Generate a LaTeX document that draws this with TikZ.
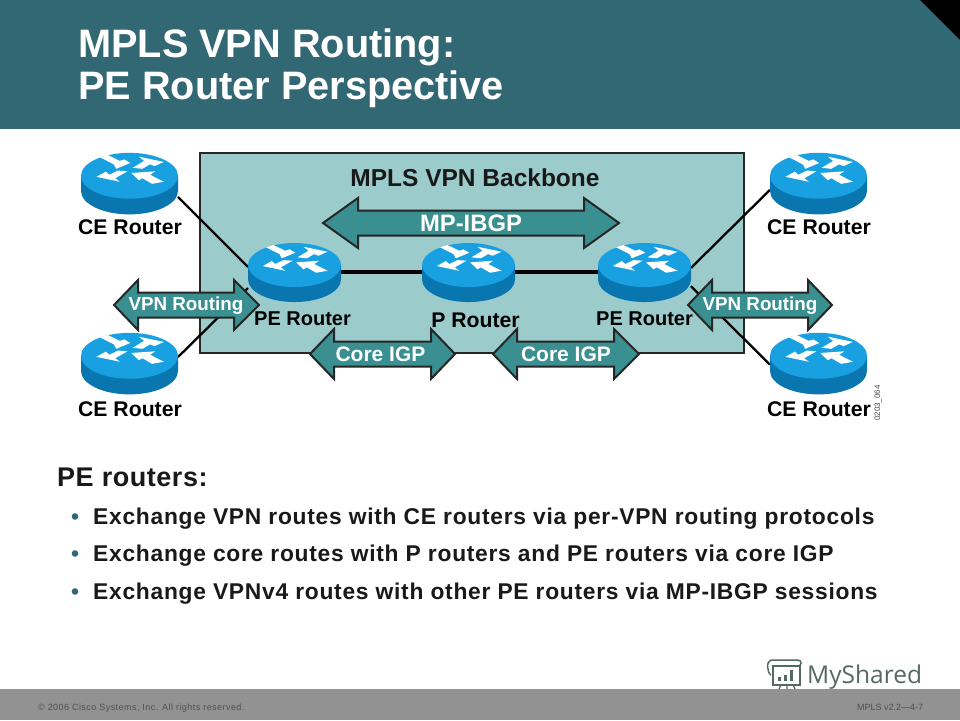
\documentclass[tikz,border=0pt]{standalone}
\usepackage{fontspec}
\setmainfont{Liberation Sans}
\newfontfamily\logofont{Open Sans}
\definecolor{hdr}{RGB}{50,103,116}
\definecolor{foot}{RGB}{146,146,146}
\definecolor{footink}{RGB}{80,80,80}
\definecolor{panel}{RGB}{156,203,203}
\definecolor{teal}{RGB}{58,144,144}
\definecolor{rtop}{RGB}{25,160,225}
\definecolor{rside}{RGB}{10,118,176}
\definecolor{logoink}{RGB}{85,105,100}
\newcommand{\spaced}[1]{\addfontfeature{LetterSpace=#1}}
\tikzset{
  x=1pt,y=-1pt,
  routerbox/.style={rectangle,inner sep=0pt,outer sep=0pt},
  rlabel/.style={font=\bfseries\fontsize{21.2}{23}\selectfont,text=black,inner sep=0pt},
  rlabelsmall/.style={font=\bfseries\fontsize{20}{22}\selectfont,text=black,inner sep=0pt},
  arrowlabel/.style={font=\bfseries\fontsize{18.8}{20}\selectfont,text=white,inner sep=0pt},
  arrowshape/.style={fill=teal,draw=black!85,line width=2pt,line join=miter},
  link/.style={draw=black,line width=2.3pt},
  trunk/.style={draw=black,line width=4pt},
  bullet/.style={font=\bfseries\fontsize{22.8}{24}\selectfont\spaced{3.2},text=black!90,inner sep=0pt,anchor=base west},
  titletext/.style={font=\bfseries\fontsize{39.7}{46}\selectfont,text=white,anchor=base west,inner sep=0pt},
  foottext/.style={font=\fontsize{9}{10}\selectfont,text=footink,anchor=base west,inner sep=0pt},
}
% name, cx, top, half-width, height
\newcommand{\routerbox}[5]{%
  \node[routerbox,minimum width=2*#4 pt,minimum height=#5 pt] (#1) at (#2,#3+#5/2) {};
}
\newcommand{\routerdraw}[4]{%
  \begin{scope}[shift={(#1,#2+#4*0.38)},scale=#3/46.5]
    \fill[rside] (-46.5,0) -- (-46.5,14.5) arc[start angle=180,end angle=360,x radius=46.5,y radius=-22.5] -- (46.5,0) -- cycle;
    \fill[rtop] (0,0) ellipse[x radius=46.5,y radius=22];
    \fill[white] (-28.3,-17.7)--(-21,-20)--(-9.3,-14.3)--(-5,-15.7)--(0.7,-12.3)--(-12.7,-6.7)--(-15,-11)--cycle;
    \fill[white] (3,-7.7)--(12.3,-6.7)--(19.7,-11)--(24,-9.3)--(33,-13.3)--(9,-18.3)--(14,-14.3)--cycle;
    \fill[white] (-31.7,1)--(-9.3,5.7)--(-13.7,2.3)--(-2,-4.3)--(-11,-5)--(-19.3,-1)--(-22.7,-4)--cycle;
    \fill[white] (1.7,-2.7)--(24.7,-4.3)--(19.7,-1)--(33,5.7)--(21.7,7.7)--(12.3,2.3)--(9,4.3)--cycle;
  \end{scope}
}
% name, left tip, left back, right back, right tip, y, text, label x, label y
\newcommand{\dblarrow}[9]{%
  \draw[arrowshape] (#2,#6) -- (#3,#6-25) -- (#3,#6-12.5) -- (#4,#6-12.5) -- (#4,#6-25) -- (#5,#6)
    -- (#4,#6+25) -- (#4,#6+12.5) -- (#3,#6+12.5) -- (#3,#6+25) -- cycle;
  \node[arrowlabel] (#1) at (#8,#9) {#7};
}
\begin{document}
\begin{tikzpicture}
\useasboundingbox (0,0) rectangle (960,720);
\fill[white] (0,0) rectangle (960,720);
\fill[hdr] (0,0) rectangle (960,129);
\fill[black] (920,0) -- (960,0) -- (960,40) -- cycle;
\fill[foot] (0,689) rectangle (960,720);
\node[titletext] (t1) at (78,57) {MPLS VPN Routing:};
\node[titletext] (t2) at (78,99) {PE Router Perspective};

\draw[draw=black!85,fill=panel,line width=2.7pt] (200,153) rectangle (744,353);
\node[font=\bfseries\fontsize{24.5}{26}\selectfont,text=black!90,inner sep=0pt] (backbone) at (475,178) {MPLS VPN Backbone};

\routerbox{ce1}{129.5}{153}{48.5}{60}
\routerbox{ce2}{129.5}{333}{48.5}{60}
\routerbox{ce3}{818.5}{153}{48.5}{60}
\routerbox{ce4}{818.5}{333}{48.5}{60}
\routerbox{pe1}{294.5}{243}{46.5}{58}
\routerbox{pr}{468.5}{243}{46.5}{58}
\routerbox{pe2}{644.5}{243}{46.5}{58}

\draw[link] (ce1.-16) -- (pe1.174);
\draw[link] (ce2.7) -- (pe1.199);
\draw[link] (ce3.188) -- (pe2.5);
\draw[link] (ce4.182) -- (pe2.-17);
\draw[trunk] (pe1.east) -- (pr.west);
\draw[trunk] (pr.east) -- (pe2.west);

\routerdraw{129.5}{153}{48.5}{60}
\routerdraw{129.5}{333}{48.5}{60}
\routerdraw{818.5}{153}{48.5}{60}
\routerdraw{818.5}{333}{48.5}{60}
\routerdraw{294.5}{243}{46.5}{58}
\routerdraw{468.5}{243}{46.5}{58}
\routerdraw{644.5}{243}{46.5}{58}

\dblarrow{ibgp}{323}{358}{584}{619}{223}{\fontsize{23.8}{25}\selectfont MP-IBGP}{471}{223}
\dblarrow{vpn1}{114}{138}{234}{259}{305}{VPN Routing}{186}{306}
\dblarrow{vpn2}{688}{712}{808}{832}{305}{VPN Routing}{760}{306}
\dblarrow{igp1}{310}{334}{431}{455}{354}{\fontsize{21}{23}\selectfont Core IGP}{380.5}{354}
\dblarrow{igp2}{493}{517}{614}{639}{354}{\fontsize{21}{23}\selectfont Core IGP}{566}{354}

\node[rlabel] (l1) at (130,227) {CE Router};
\node[rlabel] (l2) at (130,409) {CE Router};
\node[rlabel] (l3) at (819,227) {CE Router};
\node[rlabel] (l4) at (819,409) {CE Router};
\node[rlabelsmall] (l5) at (302.5,319) {PE Router};
\node[rlabel] (l6) at (475.5,320) {P Router};
\node[rlabelsmall] (l7) at (644.5,319) {PE Router};
\node[font=\fontsize{8}{9}\selectfont,text=black!70,rotate=90,inner sep=0pt] (code) at (878,403) {0203\_064};

\node[font=\bfseries\fontsize{27}{30}\selectfont\spaced{2},text=black!90,anchor=base west,inner sep=0pt] (pe) at (57,486) {PE routers:};
\node[bullet,text=hdr] (b1) at (71,524) {•};
\node[bullet,text=hdr] (b2) at (71,561) {•};
\node[bullet,text=hdr] (b3) at (71,599) {•};
\node[bullet] (s1) at (93,524) {Exchange VPN routes with CE routers via per-VPN routing protocols};
\node[bullet] (s2) at (93,561) {Exchange core routes with P routers and PE routers via core IGP};
\node[bullet] (s3) at (93,599) {Exchange VPNv4 routes with other PE routers via MP-IBGP sessions};

\node[foottext,font=\fontsize{9}{10}\selectfont\spaced{5}] (f1) at (38,710) {© 2006 Cisco Systems, Inc. All rights reserved.};
\node[foottext] (f2) at (857,710) {MPLS v2.2—4-7};

% logo
\draw[logoink,line width=1.5pt] (773,666) rectangle (800,685);
\draw[logoink,line width=1.5pt] (771,660) -- (798,660) .. controls (802,660) and (802,666) .. (798,666) -- (773,666);
\draw[logoink,line width=1.5pt] (771,660) .. controls (766,661) and (767,673) .. (771,675);
\fill[logoink] (778,677) rectangle (781,681);
\fill[logoink] (784,675) rectangle (787,681);
\fill[logoink] (790,670) rectangle (793,681);
\draw[logoink,line width=1.2pt] (781,685) -- (779,689) (787,685) -- (787,689) (793,685) -- (795,689);
\node[font=\logofont\fontsize{24.5}{26}\selectfont,text=logoink,anchor=base west,inner sep=0pt] (logo) at (807,683) {MyShared};
\end{tikzpicture}
\end{document}
